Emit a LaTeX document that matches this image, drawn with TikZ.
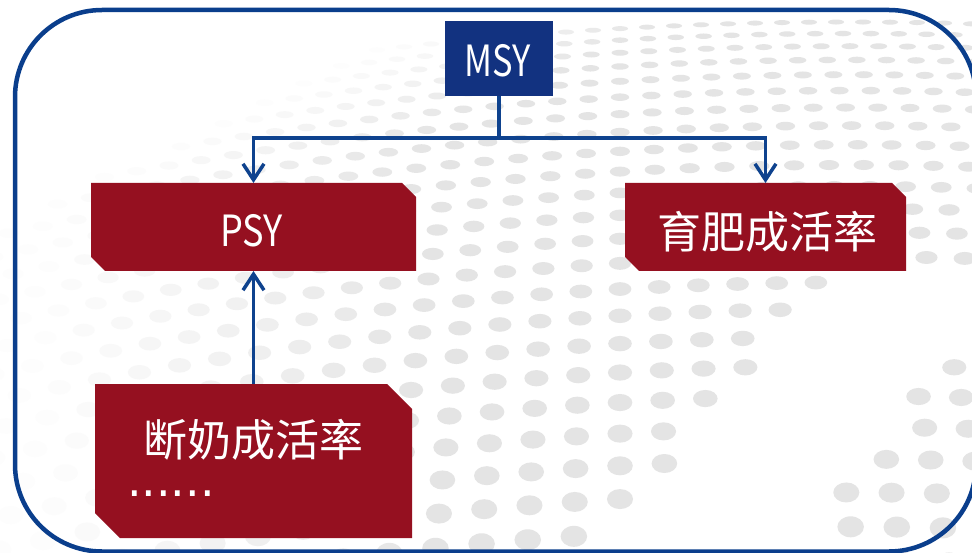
\documentclass[tikz,border=0pt]{standalone}
\usepackage{fontspec}
\setmainfont{Noto Sans CJK SC}
\newfontfamily\dotfont{DejaVu Sans}
\usetikzlibrary{arrows.meta}
\definecolor{bordblue}{RGB}{10,62,140}
\definecolor{lineblue}{RGB}{14,66,142}
\definecolor{msyblue}{RGB}{18,50,128}
\definecolor{boxred}{RGB}{149,16,32}
\definecolor{dotgray}{RGB}{228,228,228}
\pgfdeclarelayer{dots}
\pgfdeclarelayer{boxes}
\pgfsetlayers{dots,boxes,main}
\newcommand\chambox[3]{%
  \fill[#3] (#1.north west) -- ([xshift=-#2pt]#1.north east) -- ([yshift=-#2pt]#1.north east)
    -- (#1.south east) -- ([xshift=#2pt]#1.south west) -- ([yshift=#2pt]#1.south west) -- cycle;}
\tikzset{
  boxn/.style={inner sep=0pt, outer sep=0pt, draw=none},
  txt/.style={text=white, inner sep=0pt, outer sep=0pt},
  latinfont/.style={font=\fontsize{43}{50}\selectfont},
  cjkfont/.style={font=\fontsize{44}{50}\selectfont},
  conn/.style={draw=lineblue, line width=3.5pt},
  barb/.style={-{Straight Barb[length=16pt,width=21pt]}},
}
\begin{document}
\begin{tikzpicture}[x=1pt,y=-1pt]
\useasboundingbox (0,0) rectangle (972,553);
\begin{pgfonlayer}{dots}
\fill[white] (0,0) rectangle (972,553);
\foreach \r in {0,...,23}{
  \pgfmathsetmacro\t{\r/23}
  \pgfmathsetmacro\yr{22+11*\r+0.543*\r*\r}
  \pgfmathsetmacro\sx{27+20*\t}
  \pgfmathsetmacro\rw{8+5.5*\t}
  \pgfmathsetmacro\rh{2.5+8.5*\t*(0.6+0.4*\t)}
  \foreach \j in {-25,...,16}{
    \pgfmathsetmacro\xx{620+\j*\sx}
    \pgfmathsetmacro\dd{(\xx-850)/100}
    \pgfmathsetmacro\yy{\yr+1.25*\dd*\dd}
    \pgfmathtruncatemacro\ok{((\xx>-20)&&(\xx<995)&&(\yy<575)&&( ((\xx>470-2.1*\yy)&&((\yy<260)||(\xx+0.8*\yy<1045))) || ((\xx+0.8*\yy>1230)&&(\yy>330)) )) ? 1 : 0}
    \ifnum\ok=1
      \pgfmathsetmacro\op{min(1,max(0.07,min(\xx/420-0.05,(\xx-470+2.1*\yy)/250)))}
      \fill[dotgray,fill opacity=\op] (\xx,\yy) ellipse [x radius=\rw pt, y radius=\rh pt];
    \fi
  }
}
\end{pgfonlayer}

% outer frame
\draw[bordblue, line width=4.5pt, rounded corners=87pt] (15,10) rectangle (976,551.5);

% box nodes
\node[boxn, fill=msyblue, minimum width=108pt, minimum height=75pt] (msy) at (499,58.5) {};
\node[boxn, minimum width=325pt, minimum height=88pt] (psy) at (253.5,227) {};
\node[boxn, minimum width=281pt, minimum height=88pt] (yf) at (765.5,227) {};
\node[boxn, minimum width=317pt, minimum height=154pt] (dn) at (253.5,461) {};

\begin{pgfonlayer}{boxes}
\chambox{psy}{14}{boxred}
\chambox{yf}{14}{boxred}
\chambox{dn}{25}{boxred}
\end{pgfonlayer}

% texts
\node[txt, latinfont] (msyt) at (498,61) {\scalebox{0.8}[1]{MSY}};
\node[txt, latinfont] (psyt) at (251.5,230.5) {\scalebox{0.84}[1]{PSY}};
\node[txt, cjkfont] (yft) at (767,232) {育肥成活率};
\node[txt, cjkfont] (dnt) at (253.5,439.5) {断奶成活率};
\node[txt, font=\dotfont\fontsize{46}{50}\selectfont, anchor=base west] (dnd) at (127,496) {......};

% connectors
\coordinate (split) at (499,138);
\draw[conn] (msy.south) -- (split);
\draw[conn, barb] (split) -| (psy.north);
\draw[conn, barb] (split) -| (yf.north);
\draw[conn, barb] (dn.north) -- (psy.south);
\end{tikzpicture}
\end{document}
